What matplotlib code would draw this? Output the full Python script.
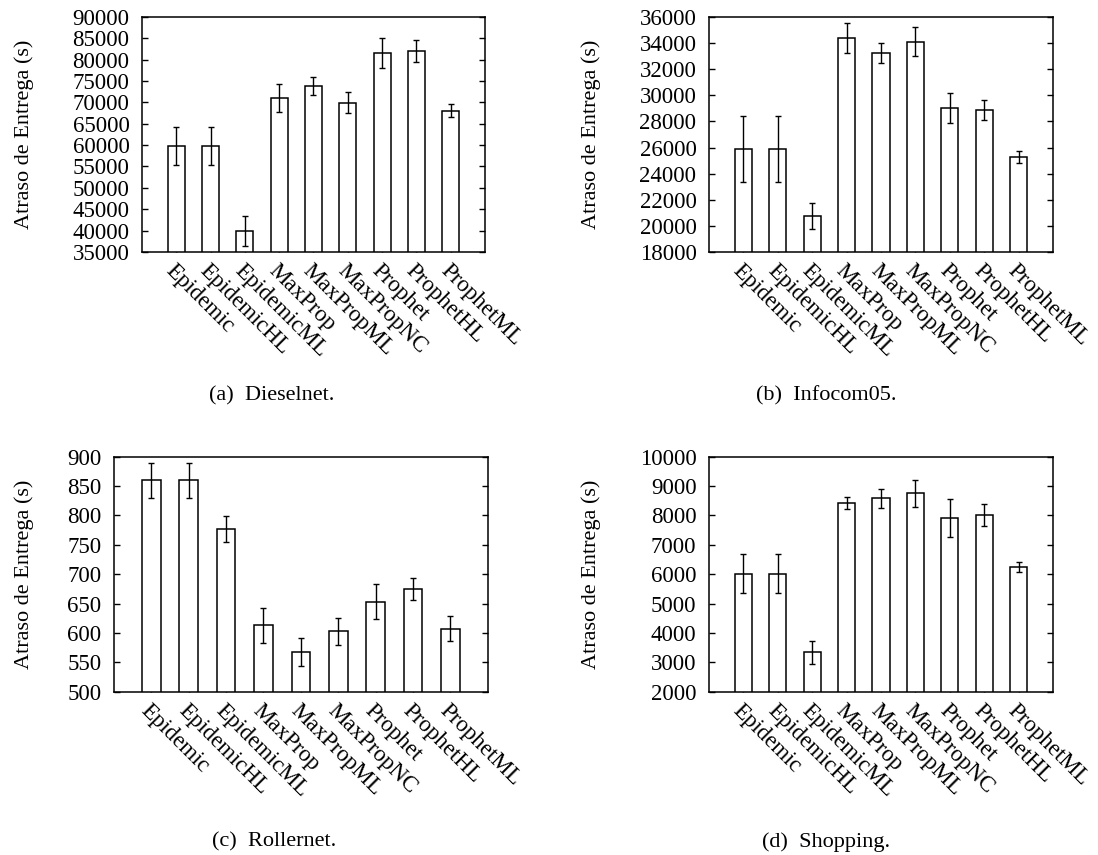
#delivery delay per routing protocol, four traces
import numpy as np
import matplotlib
matplotlib.use('Agg')
import matplotlib.pyplot as plt

plt.rcParams['font.family'] = ['Liberation Serif', 'DejaVu Serif']

protocols = ['Epidemic', 'EpidemicHL', 'EpidemicML', 'MaxProp', 'MaxPropML',
             'MaxPropNC', 'Prophet', 'ProphetHL', 'ProphetML']

#(a) Dieselnet
diesel_mean = [59800, 59800, 40000, 71100, 73900, 69900, 81600, 82100, 68100]
diesel_err = [4500, 4500, 3500, 3300, 2100, 2450, 3500, 2600, 1600]

#(b) Infocom05
infocom_mean = [25900, 25900, 20750, 34400, 33250, 34100, 29050, 28900, 25250]
infocom_err = [2550, 2550, 970, 1160, 750, 1100, 1150, 770, 460]

#(c) Rollernet
roller_mean = [860, 860, 777, 613, 567, 603, 653, 675, 607]
roller_err = [30, 30, 22.5, 30, 24, 23, 30, 19, 21.5]

#(d) Shopping
shopping_mean = [6020, 6020, 3340, 8420, 8580, 8750, 7900, 8000, 6250]
shopping_err = [650, 650, 400, 200, 335, 450, 650, 375, 160]

captions = ['(a)  Dieselnet.', '(b)  Infocom05.', '(c)  Rollernet.', '(d)  Shopping.']


def draw_panel(ax, means, errs, ymin, ymax, ystep):
    x = np.arange(len(protocols))
    ax.bar(x, means, width=0.5, bottom=0, color='white', edgecolor='black',
           linewidth=1.1, zorder=2)
    ax.errorbar(x, means, yerr=errs, fmt='none', ecolor='black',
                elinewidth=1.0, capsize=2.2, capthick=1.0, zorder=3)
    ax.set_xlim(-1, len(protocols))
    ax.set_ylim(ymin, ymax)
    ax.set_yticks(np.arange(ymin, ymax + ystep / 2, ystep))
    ax.set_xticks(x)
    ax.set_xticklabels(protocols, rotation=-45, ha='left', va='top',
                       rotation_mode='anchor')
    ax.tick_params(axis='both', direction='in', labelsize=16.5, length=4,
                   width=1, right=True, top=False)
    ax.tick_params(axis='y', pad=9)
    ax.tick_params(axis='x', pad=6)
    ax.set_ylabel('Atraso de Entrega (s)', fontsize=16)
    for s in ax.spines.values():
        s.set_linewidth(1.1)


fig = plt.figure(figsize=(10.98, 8.55), dpi=100)

ax_a = fig.add_axes([0.1293, 0.7053, 0.3124, 0.2749])
ax_b = fig.add_axes([0.6457, 0.7053, 0.3133, 0.2749])
ax_c = fig.add_axes([0.1038, 0.1910, 0.3404, 0.2749])
ax_d = fig.add_axes([0.6457, 0.1910, 0.3133, 0.2749])

draw_panel(ax_a, diesel_mean, diesel_err, 35000, 90000, 5000)
draw_panel(ax_b, infocom_mean, infocom_err, 18000, 36000, 2000)
draw_panel(ax_c, roller_mean, roller_err, 500, 900, 50)
draw_panel(ax_d, shopping_mean, shopping_err, 2000, 10000, 1000)

#put the y labels at the same place for left and right columns
for ax, xl in ((ax_a, 34), (ax_c, 34), (ax_b, 601), (ax_d, 601)):
    bb = ax.get_position()
    ax.yaxis.set_label_coords((xl / 1098 - bb.x0) / bb.width, 0.5)

fig.text(272 / 1098, 1 - 396 / 855, captions[0], ha='center', va='center', fontsize=16)
fig.text(826 / 1098, 1 - 396 / 855, captions[1], ha='center', va='center', fontsize=16)
fig.text(274 / 1098, 1 - 842 / 855, captions[2], ha='center', va='center', fontsize=16)
fig.text(826 / 1098, 1 - 842 / 855, captions[3], ha='center', va='center', fontsize=16)

fig.savefig('out.png', dpi=100)
